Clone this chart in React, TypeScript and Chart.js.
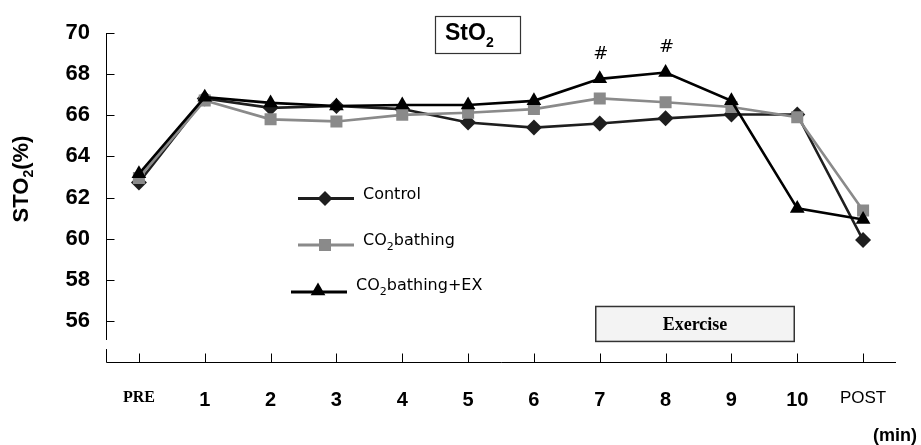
import React, { useEffect, useRef } from "react";
import { Chart, registerables } from "chart.js";

Chart.register(...registerables);

const categories = ["PRE", "1", "2", "3", "4", "5", "6", "7", "8", "9", "10", "POST"];
const controlValues = [62.73, 66.82, 66.36, 66.45, 66.3, 65.65, 65.4, 65.6, 65.85, 66.04, 66.04, 59.93];
const co2Values = [62.95, 66.72, 65.8, 65.7, 66.02, 66.12, 66.3, 66.82, 66.63, 66.4, 65.9, 61.37];
const co2ExValues = [63.15, 66.88, 66.6, 66.45, 66.5, 66.5, 66.7, 67.77, 68.08, 66.7, 61.47, 60.93];
const yTickValues = [56, 58, 60, 62, 64, 66, 68, 70];
const markedCategories = ["7", "8"];
const exerciseRange = ["7", "10"];

const Y_MIN = 54;
const Y_MAX = 70;
const BREAK_LOW = 54.63;
const BREAK_HIGH = 55.07;

function drawSubText(
  ctx: CanvasRenderingContext2D,
  parts: { t: string; sub?: boolean }[],
  x: number,
  y: number,
  font: string,
  subFont: string,
  subDy: number
) {
  let cx = x;
  for (const p of parts) {
    ctx.font = p.sub ? subFont : font;
    ctx.fillText(p.t, cx, p.sub ? y + subDy : y);
    cx += ctx.measureText(p.t).width;
  }
}

function measureSub(ctx: CanvasRenderingContext2D, parts: { t: string; sub?: boolean }[], font: string, subFont: string) {
  let w = 0;
  for (const p of parts) {
    ctx.font = p.sub ? subFont : font;
    w += ctx.measureText(p.t).width;
  }
  return w;
}

function marker(ctx: CanvasRenderingContext2D, kind: string, x: number, y: number, color: string) {
  ctx.fillStyle = color;
  ctx.beginPath();
  if (kind === "diamond") {
    const r = 7.5;
    ctx.moveTo(x, y - r);
    ctx.lineTo(x + r, y);
    ctx.lineTo(x, y + r);
    ctx.lineTo(x - r, y);
  } else if (kind === "square") {
    const s = 6;
    ctx.rect(x - s, y - s, 2 * s, 2 * s);
  } else {
    const r = 8.5;
    ctx.moveTo(x, y - r);
    ctx.lineTo(x + r * 0.866, y + r / 2);
    ctx.lineTo(x - r * 0.866, y + r / 2);
  }
  ctx.closePath();
  ctx.fill();
}

const decorPlugin = {
  id: "decor",
  beforeDatasetsDraw(chart: any) {
    const ctx: CanvasRenderingContext2D = chart.ctx;
    const xs = chart.scales.x;
    const ys = chart.scales.y;
    const a = chart.chartArea;
    ctx.save();
    ctx.strokeStyle = "#000";
    ctx.lineWidth = 1;
    const ax = Math.round(a.left) + 0.5;
    const ay = Math.round(a.bottom) + 0.5;
    ctx.beginPath();
    ctx.moveTo(ax, ys.getPixelForValue(Y_MAX));
    ctx.lineTo(ax, ys.getPixelForValue(BREAK_HIGH));
    ctx.moveTo(ax, ys.getPixelForValue(BREAK_LOW));
    ctx.lineTo(ax, ay);
    ctx.lineTo(a.right, ay);
    for (const v of yTickValues) {
      const py = Math.round(ys.getPixelForValue(v)) + 0.5;
      ctx.moveTo(ax, py);
      ctx.lineTo(ax + 8, py);
    }
    categories.forEach((_, i) => {
      const px = Math.round(xs.getPixelForValue(i)) + 0.5;
      ctx.moveTo(px, ay);
      ctx.lineTo(px, ay - 9);
    });
    ctx.stroke();

    // Exercise box
    const ex0 = xs.getPixelForValue(categories.indexOf(exerciseRange[0])) - 4;
    const ex1 = xs.getPixelForValue(categories.indexOf(exerciseRange[1])) - 3;
    const ey0 = ys.getPixelForValue(56.7);
    const ey1 = ys.getPixelForValue(55.0);
    ctx.fillStyle = "#f3f3f3";
    ctx.fillRect(ex0, ey0, ex1 - ex0, ey1 - ey0);
    ctx.strokeStyle = "#333";
    ctx.lineWidth = 1.5;
    ctx.strokeRect(ex0, ey0, ex1 - ex0, ey1 - ey0);
    ctx.fillStyle = "#000";
    ctx.font = "bold 18px 'Liberation Serif', serif";
    ctx.textAlign = "center";
    ctx.textBaseline = "middle";
    ctx.fillText("Exercise", (ex0 + ex1) / 2, (ey0 + ey1) / 2 + 1);

    // Title box
    ctx.strokeStyle = "#333";
    ctx.lineWidth = 1.2;
    ctx.strokeRect(435.5, 16.5, 85, 37);
    ctx.textAlign = "left";
    ctx.textBaseline = "middle";
    ctx.fillStyle = "#000";
    drawSubText(
      ctx,
      [{ t: "StO" }, { t: "2", sub: true }],
      445,
      34,
      "bold 23px 'Liberation Sans', Arial, sans-serif",
      "bold 14px 'Liberation Sans', Arial, sans-serif",
      9
    );
    ctx.restore();
  },
  afterDatasetsDraw(chart: any) {
    const ctx: CanvasRenderingContext2D = chart.ctx;
    const xs = chart.scales.x;
    const ys = chart.scales.y;
    ctx.save();

    // # marks
    ctx.fillStyle = "#000";
    ctx.font = "18px 'DejaVu Sans', sans-serif";
    ctx.textAlign = "center";
    ctx.textBaseline = "middle";
    for (const c of markedCategories) {
      const i = categories.indexOf(c);
      ctx.fillText("#", xs.getPixelForValue(i) + 1, ys.getPixelForValue(co2ExValues[i]) - 25);
    }

    // Legend
    const lf = "16px 'DejaVu Sans', sans-serif";
    const lsf = "11px 'DejaVu Sans', sans-serif";
    ctx.lineWidth = 3;
    ctx.textAlign = "left";
    ctx.textBaseline = "middle";
    // Control
    ctx.strokeStyle = "#1e1e1e";
    ctx.beginPath();
    ctx.moveTo(298, 198.5);
    ctx.lineTo(354, 198.5);
    ctx.stroke();
    marker(ctx, "diamond", 325, 198.5, "#1e1e1e");
    ctx.fillStyle = "#000";
    drawSubText(ctx, [{ t: "Control" }], 363, 195, lf, lsf, 5);
    // CO2bathing
    ctx.strokeStyle = "#8a8a8a";
    ctx.beginPath();
    ctx.moveTo(298, 245);
    ctx.lineTo(354, 245);
    ctx.stroke();
    marker(ctx, "square", 325, 245, "#8a8a8a");
    ctx.fillStyle = "#000";
    drawSubText(ctx, [{ t: "CO" }, { t: "2", sub: true }, { t: "bathing" }], 363, 241, lf, lsf, 6);
    // CO2bathing+EX
    ctx.strokeStyle = "#000";
    ctx.beginPath();
    ctx.moveTo(291, 292);
    ctx.lineTo(347, 292);
    ctx.stroke();
    marker(ctx, "triangle", 318, 291, "#000");
    ctx.fillStyle = "#000";
    drawSubText(ctx, [{ t: "CO" }, { t: "2", sub: true }, { t: "bathing+EX" }], 356, 286, lf, lsf, 6);

    // Y axis title
    const tf = "bold 22px 'Liberation Sans', Arial, sans-serif";
    const tsf = "bold 14px 'Liberation Sans', Arial, sans-serif";
    const tparts = [{ t: "STO" }, { t: "2", sub: true }, { t: "(%)" }];
    ctx.translate(22, 179);
    ctx.rotate(-Math.PI / 2);
    const w = measureSub(ctx, tparts, tf, tsf);
    drawSubText(ctx, tparts, -w / 2, 0, tf, tsf, 7);
    ctx.setTransform(1, 0, 0, 1, 0, 0);

    // (min)
    ctx.font = "bold 18px 'Liberation Sans', Arial, sans-serif";
    ctx.textAlign = "right";
    ctx.textBaseline = "alphabetic";
    ctx.fillText("(min)", 917, 441);
    ctx.restore();
  },
};

export default function App() {
  const ref = useRef<HTMLCanvasElement | null>(null);
  useEffect(() => {
    if (!ref.current) return;
    const chart = new Chart(ref.current, {
      type: "line",
      data: {
        labels: categories,
        datasets: [
          {
            label: "CO2bathing+EX",
            data: co2ExValues,
            borderColor: "#000",
            backgroundColor: "#000",
            borderWidth: 2.6,
            pointStyle: "triangle",
            pointRadius: 8.5,
            pointBorderWidth: 0,
            order: 0,
          },
          {
            label: "CO2bathing",
            data: co2Values,
            borderColor: "#8a8a8a",
            backgroundColor: "#8a8a8a",
            borderWidth: 2.6,
            pointStyle: "rect",
            pointRadius: 8.5,
            pointBorderWidth: 0,
            order: 1,
          },
          {
            label: "Control",
            data: controlValues,
            borderColor: "#1e1e1e",
            backgroundColor: "#1e1e1e",
            borderWidth: 2.6,
            pointStyle: "rectRot",
            pointRadius: 8,
            pointBorderWidth: 0,
            order: 2,
          },
        ],
      },
      options: {
        responsive: false,
        animation: false,
        events: [],
        layout: { padding: { top: 33, right: 25, bottom: 0, left: 0 } },
        plugins: { legend: { display: false }, tooltip: { enabled: false }, title: { display: false } },
        scales: {
          x: {
            type: "category",
            offset: true,
            grid: { display: false, drawTicks: false },
            border: { display: false },
            ticks: {
              color: "#000",
              padding: 26,
              maxRotation: 0,
              autoSkip: false,
              font: (c: any) =>
                c.index === 0
                  ? { family: "'Liberation Serif', serif", weight: "bold", size: 16 }
                  : c.index === categories.length - 1
                  ? { family: "'Liberation Sans', Arial, sans-serif", weight: "normal", size: 17 }
                  : { family: "'Liberation Sans', Arial, sans-serif", weight: "bold", size: 20 },
            },
            afterFit: (s: any) => {
              s.height = 83;
            },
          },
          y: {
            min: Y_MIN,
            max: Y_MAX,
            grid: { display: false, drawTicks: false },
            border: { display: false },
            ticks: {
              stepSize: 2,
              color: "#000",
              padding: 16,
              font: { family: "'Liberation Sans', Arial, sans-serif", weight: "bold", size: 22 },
              callback: (v: any) => (yTickValues.includes(Number(v)) ? String(v) : ""),
            },
            afterFit: (s: any) => {
              s.width = 106;
            },
          },
        },
      },
      plugins: [decorPlugin],
    } as any);
    return () => chart.destroy();
  }, []);
  return (
    <div style={{ position: "absolute", left: 0, top: 0, width: 921, height: 445, background: "#fff" }}>
      <canvas ref={ref} width={921} height={445} style={{ display: "block" }} />
    </div>
  );
}
